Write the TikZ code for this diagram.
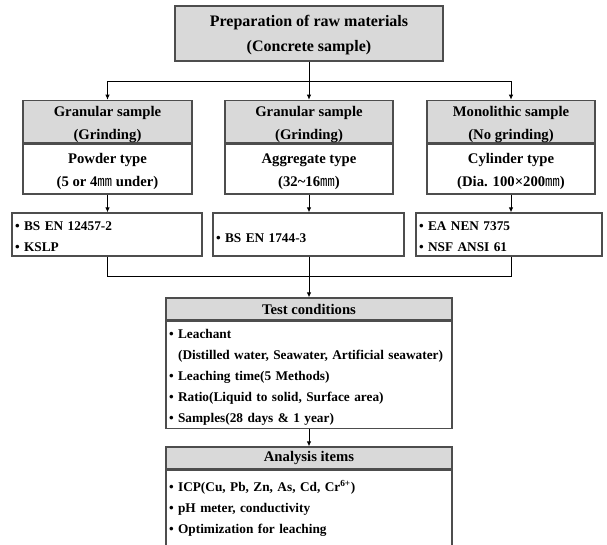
\documentclass[tikz,border=0pt]{standalone}
\usepackage{fontspec}
\setmainfont{Liberation Serif}
\newfontfamily\cjk{Noto Sans CJK KR}
\usetikzlibrary{arrows.meta}
\definecolor{hdrgray}{HTML}{D9D9D9}
\definecolor{edgegray}{HTML}{4D4D4D}
\newcommand\myStrut[1]{\rule{0pt}{#1pt}}
\begin{document}
\begin{tikzpicture}[x=1pt,y=-1pt,
  box/.style={draw=edgegray, line width=1.3pt, inner sep=0pt, align=center,
    font=\bfseries\fontsize{14.7}{23}\selectfont},
  hdr/.style={box, fill=hdrgray},
  items/.style={box, align=left, inner xsep=3pt, font=\bfseries\fontsize{13.3}{21}\selectfont},
  conn/.style={draw=black, line width=0.9pt},
  arr/.style={conn, -{Latex[length=5pt,width=4.5pt]}}
]
\useasboundingbox (0,0) rectangle (607,544);
\clip (0,0) rectangle (607,544);
% top
\node[hdr, minimum width=268pt, minimum height=55pt, font=\bfseries\fontsize{16}{25}\selectfont] (top) at (309,33.5)
  {\myStrut{15}Preparation of raw materials\\(Concrete sample)};
% type boxes
\node[hdr, minimum width=169pt, minimum height=37pt] (gL) at (107.5,121.5) {\myStrut{16}Granular sample\\(Grinding)};
\node[box, minimum width=169pt, minimum height=50pt, anchor=north] (pL) at (gL.south) {\myStrut{14.5}Powder type\\(5 or 4{\cjk\mdseries ㎜} under)};
\node[hdr, minimum width=168pt, minimum height=37pt] (gM) at (309,121.5) {\myStrut{16}Granular sample\\(Grinding)};
\node[box, minimum width=168pt, minimum height=50pt, anchor=north] (pM) at (gM.south) {\myStrut{14.5}Aggregate type\\(32\textasciitilde16{\cjk\mdseries ㎜})};
\node[hdr, minimum width=168pt, minimum height=37pt] (gR) at (511,121.5) {\myStrut{16}Monolithic sample\\(No grinding)};
\node[box, minimum width=168pt, minimum height=50pt, anchor=north] (pR) at (gR.south) {\myStrut{14.5}Cylinder type\\(Dia. 100×200{\cjk\mdseries ㎜})};
% standards
\node[items, minimum width=190pt, minimum height=43pt, text width=184pt] (sL) at (107,234.5)
  {\myStrut{13.5}\textbullet\ BS EN 12457-2\\\textbullet\ KSLP};
\node[items, minimum width=191pt, minimum height=43pt, text width=185pt] (sM) at (308.5,234.5)
  {\myStrut{16}\textbullet\ BS EN 1744-3};
\node[items, minimum width=186pt, minimum height=43pt, text width=180pt] (sR) at (509,234.5)
  {\myStrut{13.5}\textbullet\ EA NEN 7375\\\textbullet\ NSF ANSI 61};
% test conditions
\node[hdr, minimum width=286pt, minimum height=22pt] (tcH) at (309,309) {\myStrut{11.5}Test conditions};
\node[items, minimum width=286pt, minimum height=107pt, text width=280pt, anchor=north] (tcB) at (tcH.south)
  {\myStrut{13.5}\textbullet\ Leachant\\
   \phantom{\textbullet\ }(Distilled water, Seawater, Artificial seawater)\\
   \textbullet\ Leaching time(5 Methods)\\
   \textbullet\ Ratio(Liquid to solid, Surface area)\\
   \textbullet\ Samples(28 days \& 1 year)};
% analysis
\node[hdr, minimum width=286pt, minimum height=22pt] (aiH) at (309,458) {Analysis items};
\node[items, minimum width=286pt, minimum height=76pt, text width=280pt, anchor=north] (aiB) at (aiH.south)
  {\textbullet\ ICP(Cu, Pb, Zn, As, Cd, Cr\textsuperscript{6+})\\
   \textbullet\ pH meter, conductivity\\
   \textbullet\ Optimization for leaching};
% connectors
\coordinate (j1) at (309,81);
\coordinate (j2) at (309,276);
\draw[conn] (top.south) -- (j1);
\draw[arr] (j1) -| (gL.north);
\draw[arr] (j1) -| (gR.north);
\draw[arr] (j1) -- (gM.north);
\draw[arr] (pL.south) -- (sL.north -| pL.south);
\draw[arr] (pM.south) -- (sM.north -| pM.south);
\draw[arr] (pR.south) -- (sR.north -| pR.south);
\draw[conn] (sL.south -| pL.south) |- (j2);
\draw[conn] (sR.south -| pR.south) |- (j2);
\draw[arr] (sM.south -| j2) -- (tcH.north);
\draw[arr] (tcB.south) -- (aiH.north);
\end{tikzpicture}
\end{document}
